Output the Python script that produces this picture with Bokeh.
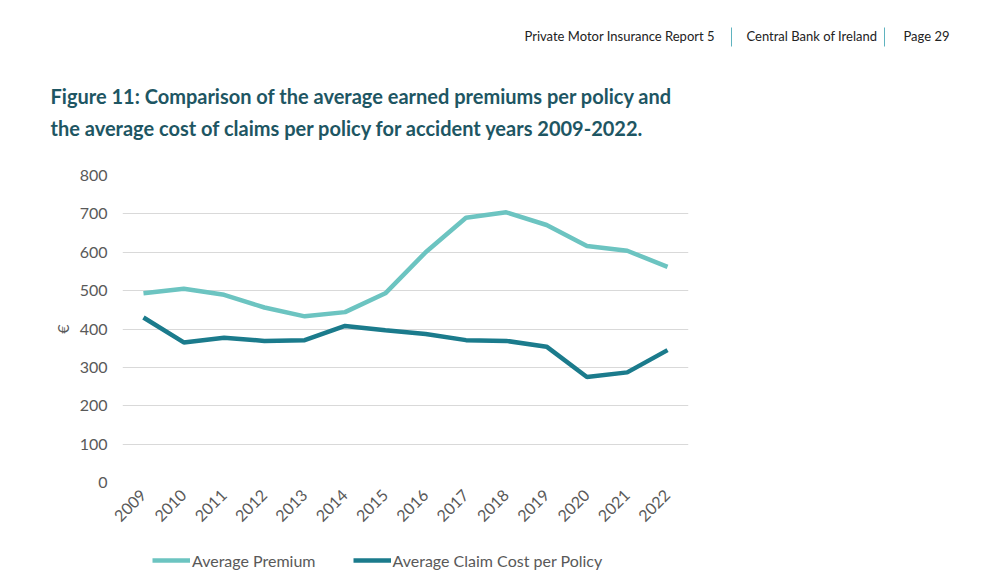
from bokeh.plotting import figure
from bokeh.models import Range1d, Label, Legend, LegendItem, FixedTicker
from bokeh.layouts import column, row
from bokeh.embed import file_html
from bokeh.resources import INLINE
import math

years = [2009, 2010, 2011, 2012, 2013, 2014, 2015, 2016, 2017, 2018, 2019, 2020, 2021, 2022]
avg_premium = [493, 505, 489, 456, 433, 444, 493, 600, 690, 704, 671, 616, 604, 562]
avg_claim = [430, 365, 377, 369, 371, 408, 397, 387, 371, 369, 354, 275, 287, 345]
y_ticks = [0, 100, 200, 300, 400, 500, 600, 700, 800]
series_names = ["Average Premium", "Average Claim Cost per Policy"]
header_texts = ["Private Motor Insurance Report 5", "Central Bank of Ireland", "Page 29"]
title_lines = ["Figure 11: Comparison of the average earned premiums per policy and",
               "the average cost of claims per policy for accident years 2009-2022."]

premium_color = "#6cc4c1"
claim_color = "#1b7b8c"
FONT = "Lato"
W = 988
H_HEAD, H_MAIN, H_LEG = 160, 380, 47


def blank(h, top0):
    f = figure(width=W, height=h, output_backend="svg", toolbar_location=None,
               x_range=Range1d(0, W), y_range=Range1d(top0 + h, top0),
               x_axis_location=None, y_axis_location=None,
               min_border=0, min_border_left=0, min_border_right=0,
               min_border_top=0, min_border_bottom=0)
    f.outline_line_color = None
    f.grid.grid_line_color = None
    f.background_fill_color = "white"
    f.border_fill_color = "white"
    return f


head = blank(H_HEAD, 0)


def lab(fig, text, px, py, size, color, bold=False):
    fig.add_layout(Label(x=px, y=py, text=text, text_font=FONT, text_font_size=size,
                         text_color=color, text_font_style="bold" if bold else "normal",
                         text_baseline="alphabetic"))


for t, x in zip(header_texts, [524, 746, 903]):
    lab(head, t, x, 35, "13px", "#222222")
head.segment(x0=[731, 884], y0=[27, 27], x1=[731, 884], y1=[46, 46], line_color="#5fb3bf", line_width=1)
lab(head, title_lines[0], 50, 95, "20px", "#1e5663", True)
lab(head, title_lines[1], 50, 127, "20px", "#1e5663", True)

p = figure(width=W, height=H_MAIN, output_backend="svg", toolbar_location=None,
           x_range=Range1d(2008.48, 2022.52), y_range=Range1d(0, 800),
           min_border_left=122, min_border_right=W - 688, min_border_top=15, min_border_bottom=58)
p.outline_line_color = None
p.background_fill_color = "white"
p.border_fill_color = "white"
p.xgrid.grid_line_color = None
p.ygrid.grid_line_color = "#d9d9d9"
p.ygrid.grid_line_width = 1
p.yaxis.ticker = FixedTicker(ticks=y_ticks)
p.xaxis.ticker = FixedTicker(ticks=years)
for ax in (p.xaxis, p.yaxis):
    ax.axis_line_color = None
    ax.major_tick_line_color = None
    ax.minor_tick_line_color = None
    ax.major_label_text_font = FONT
    ax.major_label_text_color = "#595959"
    ax.major_label_text_font_size = "16px"
p.xaxis.major_label_orientation = math.pi / 4
p.xaxis.major_label_text_font_size = "16px"
p.xaxis.major_label_standoff = 4
p.yaxis.major_label_standoff = 9
p.yaxis.axis_label = "€"
p.yaxis.axis_label_text_font = FONT
p.yaxis.axis_label_text_font_style = "normal"
p.yaxis.axis_label_text_font_size = "16px"
p.yaxis.axis_label_text_color = "#595959"
p.yaxis.axis_label_standoff = 5

p.line(years, avg_premium, line_color=premium_color, line_width=4.5)
p.line(years, avg_claim, line_color=claim_color, line_width=4.5)

# legend strip: same series drawn here fall outside its view, only their legend swatches show
leg = blank(H_LEG, H_HEAD + H_MAIN)
d1 = leg.line(years, avg_premium, line_color=premium_color, line_width=4.5)
d2 = leg.line(years, avg_claim, line_color=claim_color, line_width=4.5)
legend = Legend(items=[LegendItem(label=series_names[0], renderers=[d1]),
                       LegendItem(label=series_names[1], renderers=[d2])],
                orientation="horizontal", location=(152, 17),
                label_text_font=FONT, label_text_font_size="16px", label_text_color="#595959",
                glyph_width=38, glyph_height=20, label_height=20, label_standoff=2,
                spacing=37, padding=0, margin=0, border_line_color=None,
                background_fill_alpha=0)
leg.add_layout(legend, "center")

layout = column(row(head), row(p), row(leg), spacing=0)
open("out.html", "w").write(file_html(layout, INLINE))
